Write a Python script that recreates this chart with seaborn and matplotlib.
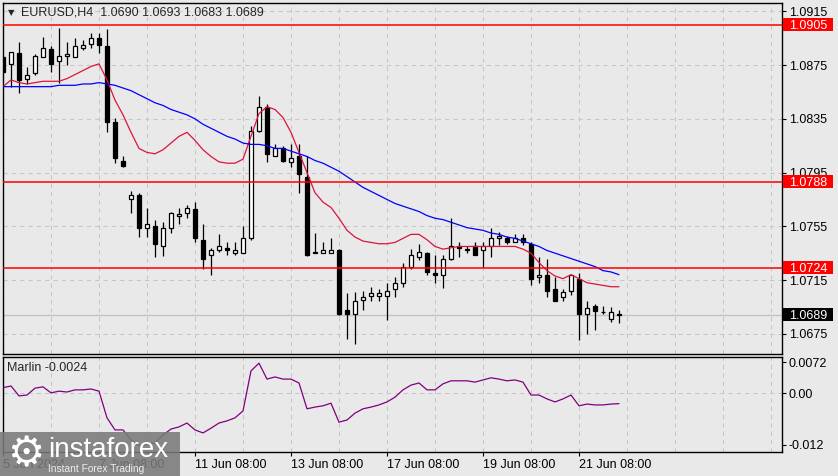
import matplotlib
matplotlib.use("Agg")
import matplotlib.pyplot as plt
import matplotlib.transforms as mtransforms
from matplotlib.patches import Rectangle
import numpy as np
import pandas as pd
import seaborn as sns

# ---------------- data ----------------
opens = [1.0881, 1.0876, 1.0884, 1.0865, 1.0869, 1.0881, 1.0887, 1.0878, 1.0882, 1.0881,
         1.0888, 1.0891, 1.0895, 1.0889, 1.0833, 1.0804, 1.0775, 1.0778, 1.0754, 1.0755,
         1.0740, 1.0754, 1.0763, 1.0765, 1.0768, 1.0745, 1.0734, 1.0737, 1.0739, 1.0735,
         1.0735, 1.0746, 1.0826, 1.0844, 1.0807, 1.0813, 1.0803, 1.0807, 1.0792, 1.0736,
         1.0735, 1.0735, 1.0737, 1.0693, 1.0690, 1.0700, 1.0703, 1.0703, 1.0703, 1.0708,
         1.0713, 1.0725, 1.0732, 1.0735, 1.0720, 1.0719, 1.0731, 1.0740, 1.0738, 1.0740,
         1.0737, 1.0740, 1.0746, 1.0746, 1.0743, 1.0746, 1.0742, 1.0717, 1.0719, 1.0708,
         1.0702, 1.0707, 1.0716, 1.0690, 1.0696, 1.0691, 1.0686, 1.0690]
highs = [1.0882, 1.0885, 1.0892, 1.0874, 1.0883, 1.0896, 1.0889, 1.0903, 1.0892, 1.0895,
         1.0894, 1.0899, 1.0899, 1.0902, 1.0836, 1.0807, 1.0781, 1.0780, 1.0769, 1.0760,
         1.0758, 1.0766, 1.0769, 1.0771, 1.0773, 1.0757, 1.0739, 1.0749, 1.0743, 1.0743,
         1.0755, 1.0830, 1.0852, 1.0846, 1.0816, 1.0815, 1.0816, 1.0816, 1.0807, 1.0750,
         1.0743, 1.0746, 1.0738, 1.0705, 1.0706, 1.0707, 1.0710, 1.0708, 1.0713, 1.0717,
         1.0728, 1.0738, 1.0742, 1.0736, 1.0734, 1.0734, 1.0761, 1.0743, 1.0740, 1.0743,
         1.0743, 1.0754, 1.0751, 1.0748, 1.0749, 1.0749, 1.0743, 1.0732, 1.0731, 1.0717,
         1.0708, 1.0719, 1.0720, 1.0699, 1.0697, 1.0696, 1.0695, 1.0693]
lows = [1.0869, 1.0859, 1.0854, 1.0861, 1.0868, 1.0881, 1.0870, 1.0862, 1.0875, 1.0881,
        1.0886, 1.0888, 1.0884, 1.0825, 1.0802, 1.0799, 1.0765, 1.0747, 1.0747, 1.0732,
        1.0733, 1.0750, 1.0757, 1.0761, 1.0743, 1.0723, 1.0719, 1.0736, 1.0734, 1.0734,
        1.0735, 1.0745, 1.0825, 1.0803, 1.0807, 1.0803, 1.0799, 1.0780, 1.0733, 1.0735,
        1.0735, 1.0735, 1.0689, 1.0671, 1.0667, 1.0693, 1.0699, 1.0699, 1.0685, 1.0702,
        1.0710, 1.0723, 1.0730, 1.0719, 1.0713, 1.0709, 1.0730, 1.0732, 1.0735, 1.0734,
        1.0725, 1.0732, 1.0741, 1.0742, 1.0743, 1.0741, 1.0711, 1.0713, 1.0702, 1.0699,
        1.0699, 1.0704, 1.0670, 1.0675, 1.0678, 1.0690, 1.0684, 1.0683]
closes = [1.0870, 1.0885, 1.0864, 1.0868, 1.0882, 1.0888, 1.0876, 1.0882, 1.0883, 1.0889,
          1.0890, 1.0895, 1.0890, 1.0833, 1.0806, 1.0800, 1.0778, 1.0754, 1.0757, 1.0742,
          1.0754, 1.0765, 1.0764, 1.0769, 1.0746, 1.0731, 1.0737, 1.0740, 1.0737, 1.0737,
          1.0746, 1.0826, 1.0844, 1.0809, 1.0813, 1.0804, 1.0806, 1.0794, 1.0734, 1.0735,
          1.0737, 1.0737, 1.0690, 1.0690, 1.0699, 1.0702, 1.0705, 1.0705, 1.0707, 1.0713,
          1.0725, 1.0734, 1.0736, 1.0721, 1.0719, 1.0731, 1.0740, 1.0739, 1.0737, 1.0734,
          1.0740, 1.0746, 1.0748, 1.0743, 1.0746, 1.0743, 1.0716, 1.0719, 1.0707, 1.0699,
          1.0706, 1.0719, 1.0690, 1.0694, 1.0692, 1.0691, 1.0691, 1.0689]
ma_fast = [1.0859, 1.0864, 1.0862, 1.0861, 1.0862, 1.0863, 1.0863, 1.0863, 1.0865, 1.0868,
           1.0871, 1.0874, 1.0876, 1.0864, 1.0849, 1.0838, 1.0825, 1.0813, 1.0810, 1.0809,
           1.0812, 1.0817, 1.0822, 1.0825, 1.0819, 1.0812, 1.0807, 1.0803, 1.0802, 1.0802,
           1.0805, 1.0822, 1.0839, 1.0844, 1.0842, 1.0836, 1.0825, 1.0810, 1.0795, 1.0780,
           1.0773, 1.0769, 1.0761, 1.0752, 1.0747, 1.0744, 1.0743, 1.0742, 1.0742, 1.0743,
           1.0746, 1.0749, 1.0749, 1.0745, 1.0740, 1.0738, 1.0739, 1.0740, 1.0740, 1.0740,
           1.0740, 1.0740, 1.0740, 1.0740, 1.0740, 1.0738, 1.0735, 1.0728, 1.0722, 1.0718,
           1.0716, 1.0719, 1.0716, 1.0713, 1.0712, 1.0711, 1.0710, 1.0710]
ma_slow = [1.0859, 1.0859, 1.0859, 1.0859, 1.0859, 1.0859, 1.0859, 1.0860, 1.0860, 1.0860,
           1.0861, 1.0861, 1.0862, 1.0861, 1.0860, 1.0858, 1.0856, 1.0853, 1.0850, 1.0847,
           1.0845, 1.0842, 1.0840, 1.0838, 1.0835, 1.0831, 1.0828, 1.0825, 1.0822, 1.0820,
           1.0817, 1.0816, 1.0816, 1.0815, 1.0813, 1.0813, 1.0811, 1.0809, 1.0807, 1.0804,
           1.0802, 1.0799, 1.0796, 1.0792, 1.0788, 1.0784, 1.0781, 1.0778, 1.0775, 1.0772,
           1.0770, 1.0768, 1.0766, 1.0763, 1.0761, 1.0760, 1.0758, 1.0756, 1.0754, 1.0753,
           1.0752, 1.0750, 1.0749, 1.0747, 1.0746, 1.0744, 1.0742, 1.0740, 1.0737, 1.0735,
           1.0733, 1.0731, 1.0729, 1.0727, 1.0725, 1.0722, 1.0721, 1.0719]
marlin = [0.0013, 0.0017, -0.0006, -0.0004, 0.0012, 0.0015, 0.0001, 0.0005, 0.0003, 0.0008,
          0.0008, 0.0010, 0.0005, -0.0057, -0.0085, -0.0085, -0.0108, -0.0122, -0.0118, -0.0115,
          -0.0097, -0.0083, -0.0078, -0.0069, -0.0085, -0.0092, -0.0081, -0.0069, -0.0064, -0.0057,
          -0.0041, 0.0052, 0.0070, 0.0033, 0.0038, 0.0033, 0.0033, 0.0024, -0.0036, -0.0032,
          -0.0029, -0.0023, -0.0067, -0.0062, -0.0046, -0.0036, -0.0032, -0.0027, -0.0020, -0.0009,
          0.0008, 0.0019, 0.0024, 0.0008, 0.0008, 0.0022, 0.0029, 0.0029, 0.0029, 0.0026,
          0.0031, 0.0036, 0.0033, 0.0029, 0.0031, 0.0026, -0.0004, -0.0004, -0.0013, -0.0020,
          -0.0013, -0.0004, -0.0029, -0.0025, -0.0027, -0.0027, -0.0025, -0.0024]

date_tick_bars = [0, 12, 24, 36, 48, 60, 72]
date_tick_labels = ["5 Jun 2024", "7 Jun 08:00", "11 Jun 08:00", "13 Jun 08:00",
                    "17 Jun 08:00", "19 Jun 08:00", "21 Jun 08:00"]
price_ticks = [1.0915, 1.0875, 1.0835, 1.0795, 1.0755, 1.0715, 1.0675]
levels = [1.0905, 1.0788, 1.0724]
bid = 1.0689
marlin_ticks = [0.0072, 0.0, -0.012]
marlin_tick_labels = ["0.0072", "0.00", "-0.012"]
title = "EURUSD,H4  1.0690 1.0693 1.0683 1.0689"
marlin_title = "Marlin -0.0024"

# ---------------- style ----------------
W, H = 838, 476
BG = "#E9E9E9"
GRID = "#C6C6C6"
sns.set_theme(style="white", rc={"axes.facecolor": BG, "figure.facecolor": BG})
plt.rcParams["font.family"] = ["Liberation Sans", "DejaVu Sans"]
plt.rcParams["font.size"] = 9

fig = plt.figure(figsize=(W / 100, H / 100), dpi=100)


def fx(px):
    return px / W


def fy(py):
    return 1 - py / H


ax = fig.add_axes([fx(3), fy(354), fx(781.7) - fx(3), fy(3) - fy(354)])
axm = fig.add_axes([fx(3), fy(452.3), fx(781.7) - fx(3), fy(356.7) - fy(452.3)])

df = pd.DataFrame({"bar": np.arange(len(opens)), "open": opens, "high": highs,
                   "low": lows, "close": closes, "ma_fast": ma_fast,
                   "ma_slow": ma_slow, "marlin": marlin})

XMAX = 97.34
grid_bars = np.arange(0, 97, 6)

for a in (ax, axm):
    a.set_facecolor(BG)
    for s in a.spines.values():
        s.set_visible(True)
        s.set_color("black")
        s.set_linewidth(1.0)
    for gb in grid_bars:
        a.axvline(gb, color=GRID, linestyle=(0, (4, 4)), linewidth=0.75, zorder=0.5)

# ---------------- main price panel ----------------
ylo, yhi = 1.06599, 1.09213
for pt in price_ticks:
    ax.axhline(pt, color=GRID, linestyle=(0, (4, 4)), linewidth=0.75, zorder=0.5)
ax.axhline(bid, color="#C2C2C2", linewidth=1.0, zorder=0.8)

up = df["close"] >= df["open"]
ax.vlines(df["bar"], df["low"], df["high"], color="black", linewidth=0.9, zorder=3)
ax.bar(df["bar"], (df["close"] - df["open"]).abs(),
       bottom=np.minimum(df["open"], df["close"]), width=0.62,
       color=np.where(up, "white", "black"), edgecolor="black", linewidth=0.9, zorder=4)

sns.lineplot(data=df, x="bar", y="ma_fast", ax=ax, color="#DC143C", linewidth=0.9, zorder=5)
sns.lineplot(data=df, x="bar", y="ma_slow", ax=ax, color="#0000FF", linewidth=0.9, zorder=5)

for lv in levels:
    ax.axhline(lv, color="#FF0000", linewidth=1.1, zorder=6)

ax.set_xlim(0, XMAX)
ax.set_ylim(ylo, yhi)
ax.set_xlabel("")
ax.set_ylabel("")
ax.set_xticks([])
ax.yaxis.tick_right()
ax.set_yticks(price_ticks)
ax.set_yticklabels([f"{v:.4f}" for v in price_ticks])
ax.tick_params(axis="y", direction="out", length=3, width=0.8, pad=2,
               labelsize=9, colors="black", right=True, left=False)

# level labels on the price scale
px_per_data = 351 / (yhi - ylo)
box_h = 13 / px_per_data
trans = mtransforms.blended_transform_factory(fig.transFigure, ax.transData)
for lv, fc in [(levels[0], "#FF0000"), (levels[1], "#FF0000"), (levels[2], "#FF0000"), (bid, "black")]:
    ax.add_patch(Rectangle((fx(783), lv - box_h / 2), fx(833) - fx(783), box_h,
                           transform=trans, facecolor=fc, edgecolor="none",
                           clip_on=False, zorder=10))
    ax.text(fx(808), lv, f"{lv:.4f}", transform=trans, ha="center", va="center_baseline",
            color="white", fontsize=9, clip_on=False, zorder=11)
ax.set_xlim(0, XMAX)
ax.set_ylim(ylo, yhi)

# ---------------- Marlin panel ----------------
axm.axhline(0, color=GRID, linestyle=(0, (4, 4)), linewidth=0.75, zorder=0.5)
sns.lineplot(data=df, x="bar", y="marlin", ax=axm, color="#800080", linewidth=0.9, zorder=5)
axm.set_xlim(0, XMAX)
axm.set_ylim(-0.0137, 0.0085)
axm.set_xlabel("")
axm.set_ylabel("")
axm.yaxis.tick_right()
axm.set_yticks(marlin_ticks)
axm.set_yticklabels(marlin_tick_labels)
axm.tick_params(axis="y", direction="out", length=3, width=0.8, pad=2,
                labelsize=9, colors="black", right=True, left=False)
axm.set_xticks(date_tick_bars)
axm.set_xticklabels(date_tick_labels, ha="left")
axm.tick_params(axis="x", direction="out", length=3, width=0.8, pad=2,
                labelsize=9, colors="black", bottom=True)

# ---------------- texts ----------------
fig.text(fx(11), fy(12.5), "\u25BC", fontsize=6, family="DejaVu Sans", ha="center", va="center")
fig.text(fx(21), fy(12.7), title, ha="left", va="center", fontsize=9)
fig.text(fx(7), fy(368), marlin_title, ha="left", va="center", fontsize=9)

# ---------------- watermark ----------------
fig.add_artist(Rectangle((0, 0), fx(180), fy(432), transform=fig.transFigure,
                         facecolor="#7A7A7A", edgecolor="none", alpha=0.88, zorder=20))
fig.text(fx(26), fy(454), "\u2699", fontsize=30, family="DejaVu Sans", color="white",
         ha="center", va="center", zorder=21)
fig.text(fx(48), fy(457), "instaforex", fontsize=20, color="white", ha="left",
         va="baseline", zorder=21)
fig.text(fx(48), fy(469), "Instant Forex Trading", fontsize=7.3, color="#EEEEEE",
         ha="left", va="center", zorder=21)

fig.savefig("out.png", dpi=100, facecolor=BG)
